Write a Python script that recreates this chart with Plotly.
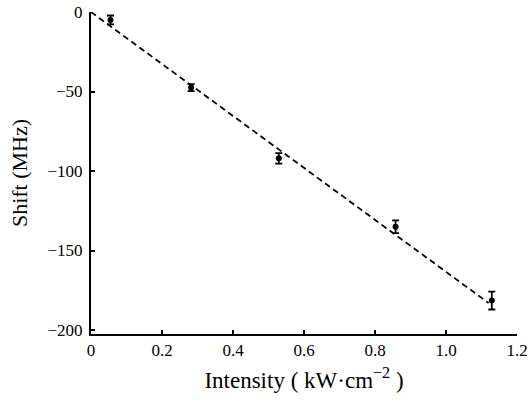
import plotly.graph_objects as go

intensity = [0.055, 0.282, 0.529, 0.858, 1.129]
shift = [-5.0, -47.5, -92.0, -135.0, -181.5]
shift_err = [2.8, 2.2, 3.3, 4.0, 5.6]

fit_x = [0.0, 1.12]
fit_y = [0.0, -183.0]

x_ticks = [0, 0.2, 0.4, 0.6, 0.8, 1.0, 1.2]
x_ticklabels = ["0", "0.2", "0.4", "0.6", "0.8", "1.0", "1.2"]
y_ticks = [0, -50, -100, -150, -200]
y_ticklabels = ["0", "\u221250", "\u2212100", "\u2212150", "\u2212200"]

fig = go.Figure()
fig.add_trace(go.Scatter(
    x=fit_x, y=fit_y, mode="lines",
    line=dict(color="black", width=1.8, dash="6px,4px"),
    showlegend=False, hoverinfo="skip"))
fig.add_trace(go.Scatter(
    x=intensity, y=shift, mode="markers",
    marker=dict(color="black", size=6),
    error_y=dict(type="data", array=shift_err, visible=True,
                 color="black", thickness=1.8, width=3.5),
    showlegend=False))

font_family = "Liberation Serif"
fig.update_layout(
    width=532, height=404,
    margin=dict(l=91, r=15, t=12, b=70, autoexpand=False),
    paper_bgcolor="white", plot_bgcolor="white",
    font=dict(family=font_family, size=17, color="black"),
    xaxis=dict(
        range=[0, 1.2], tickvals=x_ticks, ticktext=x_ticklabels,
        ticks="inside", ticklen=4, tickwidth=1.5, tickcolor="black",
        showline=True, linecolor="black", linewidth=2,
        showgrid=False, zeroline=False, automargin=False,
        tickfont=dict(family=font_family, size=17),
        title=dict(text="Intensity ( kW\u00b7cm<sup>\u22122</sup> )",
                   font=dict(family=font_family, size=23), standoff=12),
    ),
    yaxis=dict(
        range=[-202.5, 0], tickvals=y_ticks, ticktext=y_ticklabels,
        ticks="inside", ticklen=4, tickwidth=1.5, tickcolor="black",
        showline=True, linecolor="black", linewidth=2,
        showgrid=False, zeroline=False, automargin=False,
        ticklabelstandoff=3,
        tickfont=dict(family=font_family, size=17),
        title=dict(text="Shift (MHz)",
                   font=dict(family=font_family, size=22), standoff=14),
    ),
)

fig.write_html("out.html",
               config={"displayModeBar": False},
               post_script="document.body.style.margin='0';document.body.style.padding='0';")
